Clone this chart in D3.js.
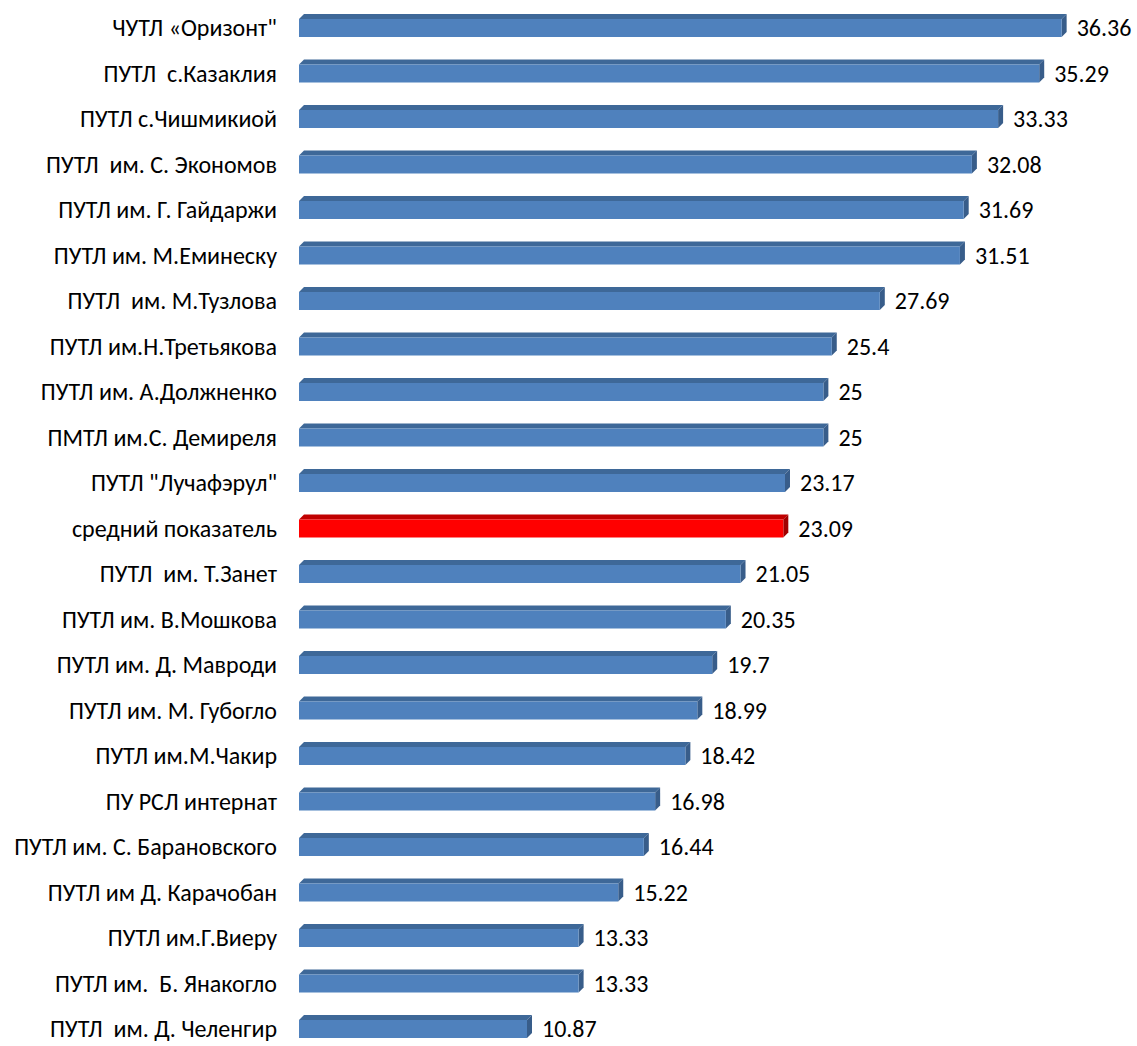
<!DOCTYPE html>
<html>
<head>
<meta charset="utf-8">
<script src="https://cdn.jsdelivr.net/npm/d3@7"></script>
<style>
    body { margin: 0; background: #fff; }
    text { font-family: Carlito, Calibri, "Open Sans", sans-serif; white-space: pre; }
</style>
</head>
<body>
<svg id="chart" width="1137" height="1046"></svg>
<script>
const schools = [
    'ЧУТЛ «Оризонт"', 'ПУТЛ  с.Казаклия', 'ПУТЛ с.Чишмикиой', 'ПУТЛ  им. С. Экономов',
    'ПУТЛ им. Г. Гайдаржи', 'ПУТЛ им. М.Еминеску', 'ПУТЛ  им. М.Тузлова', 'ПУТЛ им.Н.Третьякова',
    'ПУТЛ им. А.Должненко', 'ПМТЛ им.С. Демиреля', 'ПУТЛ "Лучафэрул"', 'средний показатель',
    'ПУТЛ  им. Т.Занет', 'ПУТЛ им. В.Мошкова', 'ПУТЛ им. Д. Мавроди', 'ПУТЛ им. М. Губогло',
    'ПУТЛ им.М.Чакир', 'ПУ РСЛ интернат', 'ПУТЛ им. С. Барановского', 'ПУТЛ им Д. Карачобан',
    'ПУТЛ им.Г.Виеру', 'ПУТЛ им.  Б. Янакогло', 'ПУТЛ  им. Д. Челенгир'
];
const values = [
    36.36, 35.29, 33.33, 32.08, 31.69, 31.51, 27.69, 25.4, 25, 25, 23.17, 23.09,
    21.05, 20.35, 19.7, 18.99, 18.42, 16.98, 16.44, 15.22, 13.33, 13.33, 10.87
];
const averageLabel = 'средний показатель';

const data = schools.map((s, i) => ({ name: s, value: values[i] }));

const svg = d3.select('#chart');
const depth = 5;
const frontH = 18;

const x = d3.scaleLinear().domain([0, 40]).range([299, 1138]);
const y = d3.scaleBand()
    .domain(schools)
    .range([14, 14 + schools.length * 45.5])
    .padding(0);

const colors = (d) => d.name === averageLabel
    ? { front: '#ff0000', top: '#c00000', side: '#a00000' }
    : { front: '#4f81bd', top: '#3e6898', side: '#385d8a' };

const rows = svg.selectAll('g.row')
    .data(data)
    .enter()
    .append('g')
    .attr('class', 'row');

// top face
rows.append('path')
    .attr('fill', d => colors(d).top)
    .attr('d', d => {
        const x0 = x(0), x1 = x(d.value), yt = y(d.name) + depth;
        return `M${x0},${yt} L${x0 + depth},${yt - depth} L${x1 + depth},${yt - depth} L${x1},${yt} Z`;
    });

// right face
rows.append('path')
    .attr('fill', d => colors(d).side)
    .attr('d', d => {
        const x1 = x(d.value), yt = y(d.name) + depth;
        return `M${x1},${yt} L${x1 + depth},${yt - depth} L${x1 + depth},${yt + frontH - depth} L${x1},${yt + frontH} Z`;
    });

// front face
rows.append('rect')
    .attr('fill', d => colors(d).front)
    .attr('x', x(0))
    .attr('y', d => y(d.name) + depth)
    .attr('width', d => x(d.value) - x(0))
    .attr('height', frontH);

// category labels
rows.append('text')
    .attr('x', 277)
    .attr('y', d => y(d.name) + depth + frontH / 2)
    .attr('dy', '0.35em')
    .attr('text-anchor', 'end')
    .attr('font-size', 24)
    .attr('fill', '#000')
    .text(d => d.name);

// value labels
rows.append('text')
    .attr('x', d => x(d.value) + depth + 10)
    .attr('y', d => y(d.name) + depth + frontH / 2)
    .attr('dy', '0.35em')
    .attr('font-size', 24)
    .attr('fill', '#000')
    .text(d => d.value);
</script>
</body>
</html>
